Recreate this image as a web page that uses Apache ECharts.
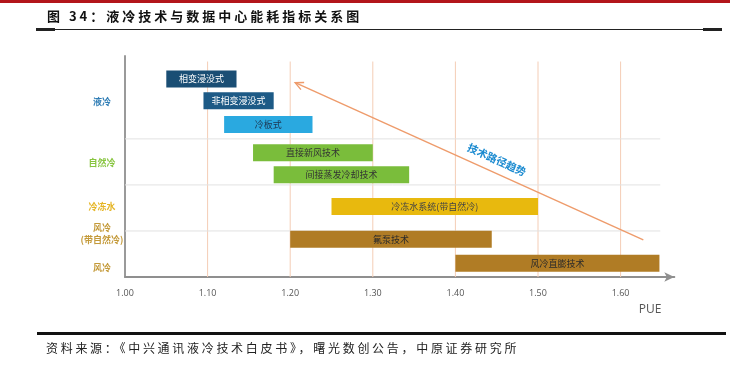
<!DOCTYPE html>
<html>
<head>
<meta charset="utf-8">
<script src="https://cdn.jsdelivr.net/npm/echarts@6/dist/echarts.min.js"></script>
<style>
html,body{margin:0;padding:0;background:#fff;}
#wrap{position:relative;width:736px;height:373px;overflow:hidden;background:#fff;}
#chart{position:absolute;left:0;top:0;width:736px;height:373px;}
#title{position:absolute;left:47px;top:7px;font:bold 13px/17px "Noto Sans CJK SC";letter-spacing:3px;color:#111;white-space:nowrap;z-index:2;}
#source{position:absolute;left:46px;top:340px;font:12px/16px "Noto Sans CJK SC";letter-spacing:2.7px;color:#222;white-space:nowrap;z-index:2;}
</style>
</head>
<body>
<div id="wrap">
  <div id="chart"></div>
  <div id="title">图 34：液冷技术与数据中心能耗指标关系图</div>
  <div id="source">资料来源：《中兴通讯液冷技术白皮书》，曙光数创公告，中原证券研究所</div>
</div>
<script>
// ---- data ----
const barNames = ['相变浸没式','非相变浸没式','冷板式','直接新风技术','间接蒸发冷却技术','冷冻水系统(带自然冷)','氟泵技术','风冷直膨技术'];
const barStart = [1.05, 1.095, 1.12, 1.155, 1.18, 1.25, 1.20, 1.40];
const barEnd   = [1.135, 1.18, 1.227, 1.30, 1.344, 1.50, 1.444, 1.647];
const barRow   = [4.30, 3.83, 3.31, 2.70, 2.22, 1.53, 0.82, 0.30];
const groupNames = ['液冷','自然冷','冷冻水','风冷\n(带自然冷)','风冷'];
const groupRow   = [3.82, 2.49, 1.53, 0.94, 0.21];
const xTicks = [1.00, 1.10, 1.20, 1.30, 1.40, 1.50, 1.60];
const rowLines = [1, 2, 3];
const trendFrom = [1.6275, 0.806];
const trendTo   = [1.206, 4.22];
const trendName = '技术路径趋势';
const axisName = 'PUE';

// ---- styles ----
const barColors = ['#1a4e74','#1d5a86','#2aa9e0','#7abd3b','#7abd3b','#e8b90e','#b07c25','#b07c25'];
const barTextColors = ['#ffffff','#ffffff','#1d3550','#333333','#333333','#444444','#2a2a2a','#2a2a2a'];
const groupColors = ['#2f7db5','#88c540','#e5b526','#c49a3a','#c49a3a'];
const X_MIN = 1.0, X_MAX = 1.665, Y_MIN = 0, Y_MAX = 4.8;
const V_GRID_TOP = 4.68, H_GRID_END = 1.648;
const CJK = '"Noto Sans CJK SC"';

const chart = echarts.init(document.getElementById('chart'), null, {renderer:'canvas'});

const option = {
  animation: false,
  backgroundColor: '#fff',
  grid: {left: 125, right: 61.7, top: 56, bottom: 96, containLabel: false},
  xAxis: {
    type: 'value', min: X_MIN, max: X_MAX, interval: 0.1,
    axisLine: {show: true, lineStyle: {color: '#8f8f8f', width: 2}, symbol: ['none','arrow'], symbolSize: [7, 10]},
    axisTick: {show: false},
    splitLine: {show: false},
    axisLabel: {
      margin: 12, fontSize: 9, color: '#555', fontFamily: 'Open Sans',
      showMaxLabel: false,
      formatter: v => xTicks.some(t => Math.abs(t - v) < 1e-6) ? v.toFixed(2) : ''
    },
    name: axisName, nameLocation: 'end', nameGap: -13,
    nameTextStyle: {align: 'right', verticalAlign: 'top', padding: [27,0,0,0], fontSize: 12, color: '#555', fontFamily: 'Open Sans'}
  },
  yAxis: {
    type: 'value', min: Y_MIN, max: Y_MAX,
    axisLine: {show: true, lineStyle: {color: '#9a9a9a', width: 2}},
    axisTick: {show: false}, axisLabel: {show: false}, splitLine: {show: false}
  },
  graphic: [
    {type:'rect', shape:{x:0, y:0, width:730, height:3}, style:{fill:'#b3161b'}},
    {type:'rect', shape:{x:36, y:29, width:686, height:1}, style:{fill:'#222'}},
    {type:'rect', shape:{x:36, y:28, width:19, height:3}, style:{fill:'#222'}},
    {type:'rect', shape:{x:703, y:28, width:19, height:3}, style:{fill:'#222'}},
    {type:'rect', shape:{x:37, y:332, width:689, height:3}, style:{fill:'#111'}}
  ],
  series: [
    { // vertical grid lines at tick values
      type: 'custom', silent: true, z: 1,
      data: xTicks.slice(1).map(v => [v]),
      encode: {x: 0},
      renderItem: (params, api) => {
        const a = api.coord([api.value(0), Y_MIN]);
        const b = api.coord([api.value(0), V_GRID_TOP]);
        return {type:'line', shape:{x1:a[0], y1:a[1], x2:b[0], y2:b[1]}, style:{stroke:'#f4cdb6', lineWidth:1}};
      }
    },
    { // horizontal row separators
      type: 'custom', silent: true, z: 1,
      data: rowLines.map(v => [v]),
      encode: {y: 0},
      renderItem: (params, api) => {
        const a = api.coord([X_MIN, api.value(0)]);
        const b = api.coord([H_GRID_END, api.value(0)]);
        return {type:'line', shape:{x1:a[0], y1:a[1], x2:b[0], y2:b[1]}, style:{stroke:'#e2e2e2', lineWidth:1}};
      }
    },
    { // technology bars
      type: 'custom', z: 3,
      data: barNames.map((n, i) => [barStart[i], barEnd[i], barRow[i]]),
      encode: {x: [0, 1], y: 2},
      renderItem: (params, api) => {
        const i = params.dataIndex;
        const s = api.coord([api.value(0), api.value(2)]);
        const e = api.coord([api.value(1), api.value(2)]);
        const h = 17;
        return {
          type: 'rect',
          shape: {x: s[0], y: s[1] - h/2, width: e[0] - s[0], height: h},
          style: {fill: barColors[i]},
          textContent: {style: {text: barNames[i], fill: barTextColors[i], font: '9px ' + CJK, align:'center', verticalAlign:'middle'}},
          textConfig: {position: 'inside'}
        };
      }
    },
    { // group labels on the left
      type: 'custom', z: 3, silent: true,
      data: groupRow.map(v => [v]),
      encode: {y: 0},
      renderItem: (params, api) => {
        const i = params.dataIndex;
        const p = api.coord([X_MIN, api.value(0)]);
        return {
          type: 'text',
          style: {x: p[0] - 23, y: p[1], text: groupNames[i], fill: groupColors[i], font: 'bold 9px ' + CJK, align:'center', verticalAlign:'middle', lineHeight: 12}
        };
      }
    },
    { // trend arrow
      type: 'custom', z: 4, silent: true,
      data: [[trendFrom[0], trendFrom[1], trendTo[0], trendTo[1]]],
      encode: {x: [0, 2], y: [1, 3]},
      renderItem: (params, api) => {
        const p1 = api.coord([api.value(0), api.value(1)]);
        const p2 = api.coord([api.value(2), api.value(3)]);
        const dx = p2[0] - p1[0], dy = p2[1] - p1[1];
        const len = Math.sqrt(dx*dx + dy*dy);
        const ux = dx/len, uy = dy/len;
        const ah = 9, aw = 0.45;
        const back = Math.atan2(-uy, -ux);
        const a1 = [p2[0] + ah*Math.cos(back + aw), p2[1] + ah*Math.sin(back + aw)];
        const a2 = [p2[0] + ah*Math.cos(back - aw), p2[1] + ah*Math.sin(back - aw)];
        const nx = -uy, ny = ux; // perpendicular (up-right side)
        const f = 0.436, off = 12.8;
        const cx = p1[0] + dx*f + nx*off, cy = p1[1] + dy*f + ny*off;
        const ang = Math.atan2(p1[1] - p2[1], p1[0] - p2[0]);
        return {
          type: 'group',
          children: [
            {type:'line', shape:{x1:p1[0], y1:p1[1], x2:p2[0], y2:p2[1]}, style:{stroke:'#ee9b6b', lineWidth:1.4}},
            {type:'polyline', shape:{points:[a1, p2, a2]}, style:{stroke:'#ee9b6b', lineWidth:1.4, fill:null}},
            {type:'text', x: cx, y: cy, rotation: -ang,
             style:{text: trendName, fill:'#1a8ad0', font:'bold 10.5px ' + CJK, align:'center', verticalAlign:'middle'}}
          ]
        };
      }
    }
  ]
};
chart.setOption(option);
</script>
</body>
</html>
